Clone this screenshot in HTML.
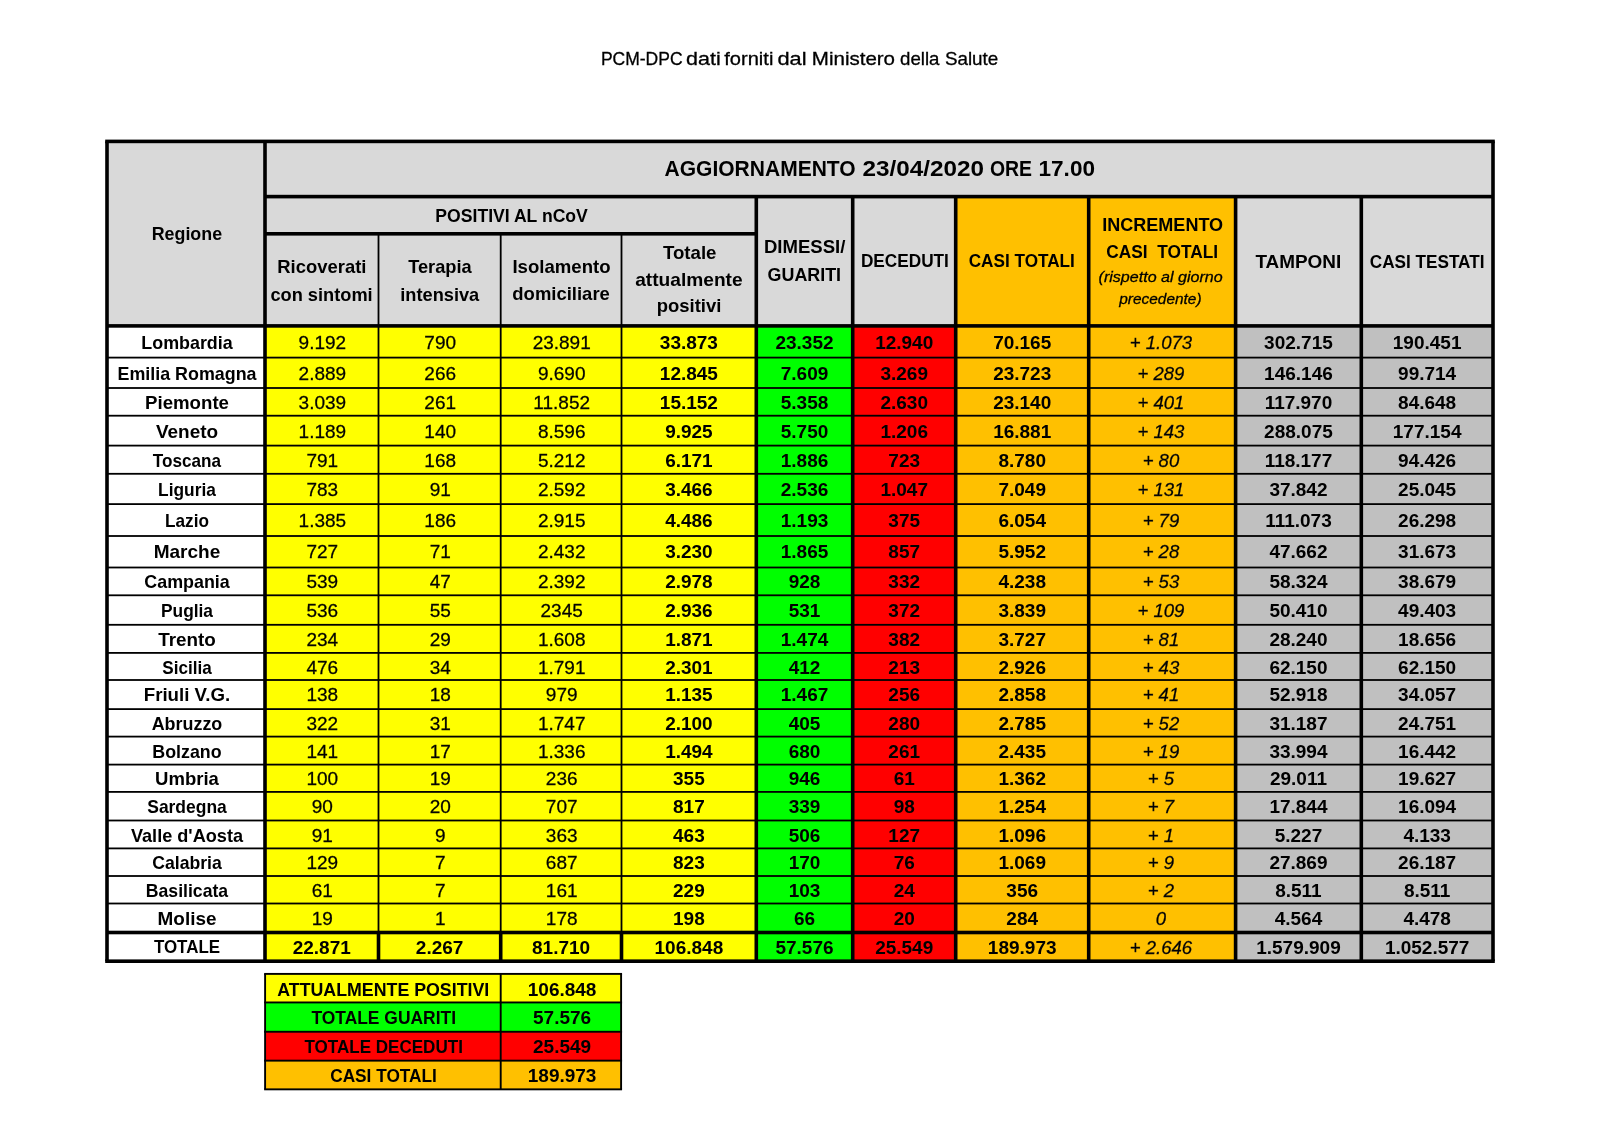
<!DOCTYPE html>
<html><head><meta charset="utf-8"><title>Dati COVID-19</title>
<style>
html,body{margin:0;padding:0;background:#fff;}
svg{display:block;will-change:transform;}
text{font-family:"Liberation Sans", sans-serif;text-anchor:middle;fill:#000;}
</style></head>
<body>
<svg width="1600" height="1131" viewBox="0 0 1600 1131">
<rect x="0" y="0" width="1600" height="1131" fill="#fff"/>
<rect x="107.00" y="141.40" width="1386.00" height="184.50" fill="#d9d9d9"/>
<rect x="955.70" y="196.60" width="279.90" height="129.30" fill="#ffc000"/>
<rect x="107.00" y="325.90" width="158.00" height="31.70" fill="#ffffff"/>
<rect x="265.00" y="325.90" width="491.30" height="31.70" fill="#ffff00"/>
<rect x="756.30" y="325.90" width="96.40" height="31.70" fill="#00ff00"/>
<rect x="852.70" y="325.90" width="103.00" height="31.70" fill="#ff0000"/>
<rect x="955.70" y="325.90" width="279.90" height="31.70" fill="#ffc000"/>
<rect x="1235.60" y="325.90" width="257.40" height="31.70" fill="#c0c0c0"/>
<rect x="107.00" y="357.60" width="158.00" height="30.40" fill="#ffffff"/>
<rect x="265.00" y="357.60" width="491.30" height="30.40" fill="#ffff00"/>
<rect x="756.30" y="357.60" width="96.40" height="30.40" fill="#00ff00"/>
<rect x="852.70" y="357.60" width="103.00" height="30.40" fill="#ff0000"/>
<rect x="955.70" y="357.60" width="279.90" height="30.40" fill="#ffc000"/>
<rect x="1235.60" y="357.60" width="257.40" height="30.40" fill="#c0c0c0"/>
<rect x="107.00" y="388.00" width="158.00" height="27.70" fill="#ffffff"/>
<rect x="265.00" y="388.00" width="491.30" height="27.70" fill="#ffff00"/>
<rect x="756.30" y="388.00" width="96.40" height="27.70" fill="#00ff00"/>
<rect x="852.70" y="388.00" width="103.00" height="27.70" fill="#ff0000"/>
<rect x="955.70" y="388.00" width="279.90" height="27.70" fill="#ffc000"/>
<rect x="1235.60" y="388.00" width="257.40" height="27.70" fill="#c0c0c0"/>
<rect x="107.00" y="415.70" width="158.00" height="29.90" fill="#ffffff"/>
<rect x="265.00" y="415.70" width="491.30" height="29.90" fill="#ffff00"/>
<rect x="756.30" y="415.70" width="96.40" height="29.90" fill="#00ff00"/>
<rect x="852.70" y="415.70" width="103.00" height="29.90" fill="#ff0000"/>
<rect x="955.70" y="415.70" width="279.90" height="29.90" fill="#ffc000"/>
<rect x="1235.60" y="415.70" width="257.40" height="29.90" fill="#c0c0c0"/>
<rect x="107.00" y="445.60" width="158.00" height="28.20" fill="#ffffff"/>
<rect x="265.00" y="445.60" width="491.30" height="28.20" fill="#ffff00"/>
<rect x="756.30" y="445.60" width="96.40" height="28.20" fill="#00ff00"/>
<rect x="852.70" y="445.60" width="103.00" height="28.20" fill="#ff0000"/>
<rect x="955.70" y="445.60" width="279.90" height="28.20" fill="#ffc000"/>
<rect x="1235.60" y="445.60" width="257.40" height="28.20" fill="#c0c0c0"/>
<rect x="107.00" y="473.80" width="158.00" height="30.30" fill="#ffffff"/>
<rect x="265.00" y="473.80" width="491.30" height="30.30" fill="#ffff00"/>
<rect x="756.30" y="473.80" width="96.40" height="30.30" fill="#00ff00"/>
<rect x="852.70" y="473.80" width="103.00" height="30.30" fill="#ff0000"/>
<rect x="955.70" y="473.80" width="279.90" height="30.30" fill="#ffc000"/>
<rect x="1235.60" y="473.80" width="257.40" height="30.30" fill="#c0c0c0"/>
<rect x="107.00" y="504.10" width="158.00" height="31.90" fill="#ffffff"/>
<rect x="265.00" y="504.10" width="491.30" height="31.90" fill="#ffff00"/>
<rect x="756.30" y="504.10" width="96.40" height="31.90" fill="#00ff00"/>
<rect x="852.70" y="504.10" width="103.00" height="31.90" fill="#ff0000"/>
<rect x="955.70" y="504.10" width="279.90" height="31.90" fill="#ffc000"/>
<rect x="1235.60" y="504.10" width="257.40" height="31.90" fill="#c0c0c0"/>
<rect x="107.00" y="536.00" width="158.00" height="31.50" fill="#ffffff"/>
<rect x="265.00" y="536.00" width="491.30" height="31.50" fill="#ffff00"/>
<rect x="756.30" y="536.00" width="96.40" height="31.50" fill="#00ff00"/>
<rect x="852.70" y="536.00" width="103.00" height="31.50" fill="#ff0000"/>
<rect x="955.70" y="536.00" width="279.90" height="31.50" fill="#ffc000"/>
<rect x="1235.60" y="536.00" width="257.40" height="31.50" fill="#c0c0c0"/>
<rect x="107.00" y="567.50" width="158.00" height="27.80" fill="#ffffff"/>
<rect x="265.00" y="567.50" width="491.30" height="27.80" fill="#ffff00"/>
<rect x="756.30" y="567.50" width="96.40" height="27.80" fill="#00ff00"/>
<rect x="852.70" y="567.50" width="103.00" height="27.80" fill="#ff0000"/>
<rect x="955.70" y="567.50" width="279.90" height="27.80" fill="#ffc000"/>
<rect x="1235.60" y="567.50" width="257.40" height="27.80" fill="#c0c0c0"/>
<rect x="107.00" y="595.30" width="158.00" height="29.50" fill="#ffffff"/>
<rect x="265.00" y="595.30" width="491.30" height="29.50" fill="#ffff00"/>
<rect x="756.30" y="595.30" width="96.40" height="29.50" fill="#00ff00"/>
<rect x="852.70" y="595.30" width="103.00" height="29.50" fill="#ff0000"/>
<rect x="955.70" y="595.30" width="279.90" height="29.50" fill="#ffc000"/>
<rect x="1235.60" y="595.30" width="257.40" height="29.50" fill="#c0c0c0"/>
<rect x="107.00" y="624.80" width="158.00" height="28.10" fill="#ffffff"/>
<rect x="265.00" y="624.80" width="491.30" height="28.10" fill="#ffff00"/>
<rect x="756.30" y="624.80" width="96.40" height="28.10" fill="#00ff00"/>
<rect x="852.70" y="624.80" width="103.00" height="28.10" fill="#ff0000"/>
<rect x="955.70" y="624.80" width="279.90" height="28.10" fill="#ffc000"/>
<rect x="1235.60" y="624.80" width="257.40" height="28.10" fill="#c0c0c0"/>
<rect x="107.00" y="652.90" width="158.00" height="27.10" fill="#ffffff"/>
<rect x="265.00" y="652.90" width="491.30" height="27.10" fill="#ffff00"/>
<rect x="756.30" y="652.90" width="96.40" height="27.10" fill="#00ff00"/>
<rect x="852.70" y="652.90" width="103.00" height="27.10" fill="#ff0000"/>
<rect x="955.70" y="652.90" width="279.90" height="27.10" fill="#ffc000"/>
<rect x="1235.60" y="652.90" width="257.40" height="27.10" fill="#c0c0c0"/>
<rect x="107.00" y="680.00" width="158.00" height="29.10" fill="#ffffff"/>
<rect x="265.00" y="680.00" width="491.30" height="29.10" fill="#ffff00"/>
<rect x="756.30" y="680.00" width="96.40" height="29.10" fill="#00ff00"/>
<rect x="852.70" y="680.00" width="103.00" height="29.10" fill="#ff0000"/>
<rect x="955.70" y="680.00" width="279.90" height="29.10" fill="#ffc000"/>
<rect x="1235.60" y="680.00" width="257.40" height="29.10" fill="#c0c0c0"/>
<rect x="107.00" y="709.10" width="158.00" height="27.50" fill="#ffffff"/>
<rect x="265.00" y="709.10" width="491.30" height="27.50" fill="#ffff00"/>
<rect x="756.30" y="709.10" width="96.40" height="27.50" fill="#00ff00"/>
<rect x="852.70" y="709.10" width="103.00" height="27.50" fill="#ff0000"/>
<rect x="955.70" y="709.10" width="279.90" height="27.50" fill="#ffc000"/>
<rect x="1235.60" y="709.10" width="257.40" height="27.50" fill="#c0c0c0"/>
<rect x="107.00" y="736.60" width="158.00" height="28.00" fill="#ffffff"/>
<rect x="265.00" y="736.60" width="491.30" height="28.00" fill="#ffff00"/>
<rect x="756.30" y="736.60" width="96.40" height="28.00" fill="#00ff00"/>
<rect x="852.70" y="736.60" width="103.00" height="28.00" fill="#ff0000"/>
<rect x="955.70" y="736.60" width="279.90" height="28.00" fill="#ffc000"/>
<rect x="1235.60" y="736.60" width="257.40" height="28.00" fill="#c0c0c0"/>
<rect x="107.00" y="764.60" width="158.00" height="27.30" fill="#ffffff"/>
<rect x="265.00" y="764.60" width="491.30" height="27.30" fill="#ffff00"/>
<rect x="756.30" y="764.60" width="96.40" height="27.30" fill="#00ff00"/>
<rect x="852.70" y="764.60" width="103.00" height="27.30" fill="#ff0000"/>
<rect x="955.70" y="764.60" width="279.90" height="27.30" fill="#ffc000"/>
<rect x="1235.60" y="764.60" width="257.40" height="27.30" fill="#c0c0c0"/>
<rect x="107.00" y="791.90" width="158.00" height="28.60" fill="#ffffff"/>
<rect x="265.00" y="791.90" width="491.30" height="28.60" fill="#ffff00"/>
<rect x="756.30" y="791.90" width="96.40" height="28.60" fill="#00ff00"/>
<rect x="852.70" y="791.90" width="103.00" height="28.60" fill="#ff0000"/>
<rect x="955.70" y="791.90" width="279.90" height="28.60" fill="#ffc000"/>
<rect x="1235.60" y="791.90" width="257.40" height="28.60" fill="#c0c0c0"/>
<rect x="107.00" y="820.50" width="158.00" height="27.90" fill="#ffffff"/>
<rect x="265.00" y="820.50" width="491.30" height="27.90" fill="#ffff00"/>
<rect x="756.30" y="820.50" width="96.40" height="27.90" fill="#00ff00"/>
<rect x="852.70" y="820.50" width="103.00" height="27.90" fill="#ff0000"/>
<rect x="955.70" y="820.50" width="279.90" height="27.90" fill="#ffc000"/>
<rect x="1235.60" y="820.50" width="257.40" height="27.90" fill="#c0c0c0"/>
<rect x="107.00" y="848.40" width="158.00" height="27.60" fill="#ffffff"/>
<rect x="265.00" y="848.40" width="491.30" height="27.60" fill="#ffff00"/>
<rect x="756.30" y="848.40" width="96.40" height="27.60" fill="#00ff00"/>
<rect x="852.70" y="848.40" width="103.00" height="27.60" fill="#ff0000"/>
<rect x="955.70" y="848.40" width="279.90" height="27.60" fill="#ffc000"/>
<rect x="1235.60" y="848.40" width="257.40" height="27.60" fill="#c0c0c0"/>
<rect x="107.00" y="876.00" width="158.00" height="27.50" fill="#ffffff"/>
<rect x="265.00" y="876.00" width="491.30" height="27.50" fill="#ffff00"/>
<rect x="756.30" y="876.00" width="96.40" height="27.50" fill="#00ff00"/>
<rect x="852.70" y="876.00" width="103.00" height="27.50" fill="#ff0000"/>
<rect x="955.70" y="876.00" width="279.90" height="27.50" fill="#ffc000"/>
<rect x="1235.60" y="876.00" width="257.40" height="27.50" fill="#c0c0c0"/>
<rect x="107.00" y="903.50" width="158.00" height="29.00" fill="#ffffff"/>
<rect x="265.00" y="903.50" width="491.30" height="29.00" fill="#ffff00"/>
<rect x="756.30" y="903.50" width="96.40" height="29.00" fill="#00ff00"/>
<rect x="852.70" y="903.50" width="103.00" height="29.00" fill="#ff0000"/>
<rect x="955.70" y="903.50" width="279.90" height="29.00" fill="#ffc000"/>
<rect x="1235.60" y="903.50" width="257.40" height="29.00" fill="#c0c0c0"/>
<rect x="107.00" y="932.50" width="158.00" height="28.70" fill="#ffffff"/>
<rect x="265.00" y="932.50" width="491.30" height="28.70" fill="#ffff00"/>
<rect x="756.30" y="932.50" width="96.40" height="28.70" fill="#00ff00"/>
<rect x="852.70" y="932.50" width="103.00" height="28.70" fill="#ff0000"/>
<rect x="955.70" y="932.50" width="279.90" height="28.70" fill="#ffc000"/>
<rect x="1235.60" y="932.50" width="257.40" height="28.70" fill="#c0c0c0"/>
<rect x="105.20" y="139.60" width="1389.60" height="3.60" fill="#000"/>
<rect x="265.00" y="194.80" width="1228.00" height="3.60" fill="#000"/>
<rect x="265.00" y="232.00" width="491.30" height="3.60" fill="#000"/>
<rect x="107.00" y="324.10" width="1386.00" height="3.60" fill="#000"/>
<rect x="105.20" y="141.40" width="3.60" height="819.80" fill="#000"/>
<rect x="1491.20" y="141.40" width="3.60" height="819.80" fill="#000"/>
<rect x="263.20" y="141.40" width="3.60" height="819.80" fill="#000"/>
<rect x="377.60" y="233.80" width="1.80" height="92.10" fill="#000"/>
<rect x="499.80" y="233.80" width="1.80" height="92.10" fill="#000"/>
<rect x="620.60" y="233.80" width="1.80" height="92.10" fill="#000"/>
<rect x="754.50" y="196.60" width="3.60" height="764.60" fill="#000"/>
<rect x="850.90" y="196.60" width="3.60" height="764.60" fill="#000"/>
<rect x="953.90" y="196.60" width="3.60" height="764.60" fill="#000"/>
<rect x="1086.90" y="196.60" width="3.60" height="764.60" fill="#000"/>
<rect x="1233.80" y="196.60" width="3.60" height="764.60" fill="#000"/>
<rect x="1359.50" y="196.60" width="3.60" height="764.60" fill="#000"/>
<rect x="107.00" y="356.70" width="1386.00" height="1.80" fill="#000"/>
<rect x="107.00" y="387.10" width="1386.00" height="1.80" fill="#000"/>
<rect x="107.00" y="414.80" width="1386.00" height="1.80" fill="#000"/>
<rect x="107.00" y="444.70" width="1386.00" height="1.80" fill="#000"/>
<rect x="107.00" y="472.90" width="1386.00" height="1.80" fill="#000"/>
<rect x="107.00" y="503.20" width="1386.00" height="1.80" fill="#000"/>
<rect x="107.00" y="535.10" width="1386.00" height="1.80" fill="#000"/>
<rect x="107.00" y="566.60" width="1386.00" height="1.80" fill="#000"/>
<rect x="107.00" y="594.40" width="1386.00" height="1.80" fill="#000"/>
<rect x="107.00" y="623.90" width="1386.00" height="1.80" fill="#000"/>
<rect x="107.00" y="652.00" width="1386.00" height="1.80" fill="#000"/>
<rect x="107.00" y="679.10" width="1386.00" height="1.80" fill="#000"/>
<rect x="107.00" y="708.20" width="1386.00" height="1.80" fill="#000"/>
<rect x="107.00" y="735.70" width="1386.00" height="1.80" fill="#000"/>
<rect x="107.00" y="763.70" width="1386.00" height="1.80" fill="#000"/>
<rect x="107.00" y="791.00" width="1386.00" height="1.80" fill="#000"/>
<rect x="107.00" y="819.60" width="1386.00" height="1.80" fill="#000"/>
<rect x="107.00" y="847.50" width="1386.00" height="1.80" fill="#000"/>
<rect x="107.00" y="875.10" width="1386.00" height="1.80" fill="#000"/>
<rect x="107.00" y="902.60" width="1386.00" height="1.80" fill="#000"/>
<rect x="107.00" y="930.70" width="1386.00" height="3.60" fill="#000"/>
<rect x="105.20" y="959.40" width="1389.60" height="3.60" fill="#000"/>
<rect x="377.60" y="325.90" width="1.80" height="606.60" fill="#000"/>
<rect x="376.70" y="932.50" width="3.60" height="28.70" fill="#000"/>
<rect x="499.80" y="325.90" width="1.80" height="606.60" fill="#000"/>
<rect x="498.90" y="932.50" width="3.60" height="28.70" fill="#000"/>
<rect x="620.60" y="325.90" width="1.80" height="606.60" fill="#000"/>
<rect x="619.70" y="932.50" width="3.60" height="28.70" fill="#000"/>
<text x="641.75" y="64.75" font-size="18.5" font-weight="normal" textLength="81.7" lengthAdjust="spacingAndGlyphs" stroke-width="0.3" stroke="#000">PCM-DPC</text>
<text x="703.35" y="64.75" font-size="18.5" font-weight="normal" textLength="34.6" lengthAdjust="spacingAndGlyphs" stroke-width="0.3" stroke="#000">dati</text>
<text x="748.80" y="64.75" font-size="18.5" font-weight="normal" textLength="49.1" lengthAdjust="spacingAndGlyphs" stroke-width="0.3" stroke="#000">forniti</text>
<text x="792.00" y="64.75" font-size="18.5" font-weight="normal" textLength="29.1" lengthAdjust="spacingAndGlyphs" stroke-width="0.3" stroke="#000">dal</text>
<text x="853.45" y="64.75" font-size="18.5" font-weight="normal" textLength="83.2" lengthAdjust="spacingAndGlyphs" stroke-width="0.3" stroke="#000">Ministero</text>
<text x="919.75" y="64.75" font-size="18.5" font-weight="normal" textLength="39.4" lengthAdjust="spacingAndGlyphs" stroke-width="0.3" stroke="#000">della</text>
<text x="971.60" y="64.75" font-size="18.5" font-weight="normal" textLength="53.4" lengthAdjust="spacingAndGlyphs" stroke-width="0.3" stroke="#000">Salute</text>
<text x="760.10" y="176.40" font-size="22" font-weight="bold" textLength="191.1" lengthAdjust="spacingAndGlyphs">AGGIORNAMENTO</text>
<text x="923.25" y="176.40" font-size="22" font-weight="bold" textLength="121.5" lengthAdjust="spacingAndGlyphs">23/04/2020</text>
<text x="1011.00" y="176.40" font-size="22" font-weight="bold" textLength="42.1" lengthAdjust="spacingAndGlyphs">ORE</text>
<text x="1066.75" y="176.40" font-size="22" font-weight="bold" textLength="56.5" lengthAdjust="spacingAndGlyphs">17.00</text>
<text x="186.90" y="240.00" font-size="19" font-weight="bold" textLength="70.4" lengthAdjust="spacingAndGlyphs">Regione</text>
<text x="511.60" y="221.60" font-size="19" font-weight="bold" textLength="152.5" lengthAdjust="spacingAndGlyphs">POSITIVI AL nCoV</text>
<text x="321.85" y="272.70" font-size="19" font-weight="bold" textLength="89.1" lengthAdjust="spacingAndGlyphs">Ricoverati</text>
<text x="321.55" y="300.75" font-size="19" font-weight="bold" textLength="102.3" lengthAdjust="spacingAndGlyphs">con sintomi</text>
<text x="439.95" y="272.70" font-size="19" font-weight="bold" textLength="63.6" lengthAdjust="spacingAndGlyphs">Terapia</text>
<text x="439.75" y="300.75" font-size="19" font-weight="bold" textLength="79.0" lengthAdjust="spacingAndGlyphs">intensiva</text>
<text x="561.50" y="272.60" font-size="19" font-weight="bold" textLength="98.2" lengthAdjust="spacingAndGlyphs">Isolamento</text>
<text x="561.10" y="300.20" font-size="19" font-weight="bold" textLength="97.5" lengthAdjust="spacingAndGlyphs">domiciliare</text>
<text x="689.70" y="258.75" font-size="19" font-weight="bold" textLength="53.6" lengthAdjust="spacingAndGlyphs">Totale</text>
<text x="688.90" y="286.40" font-size="19" font-weight="bold" textLength="107.5" lengthAdjust="spacingAndGlyphs">attualmente</text>
<text x="689.10" y="312.40" font-size="19" font-weight="bold" textLength="64.6" lengthAdjust="spacingAndGlyphs">positivi</text>
<text x="804.65" y="253.40" font-size="19" font-weight="bold" textLength="81.4" lengthAdjust="spacingAndGlyphs">DIMESSI/</text>
<text x="804.35" y="281.10" font-size="19" font-weight="bold" textLength="73.5" lengthAdjust="spacingAndGlyphs">GUARITI</text>
<text x="904.90" y="267.30" font-size="19" font-weight="bold" textLength="88.0" lengthAdjust="spacingAndGlyphs">DECEDUTI</text>
<text x="1021.80" y="267.30" font-size="19" font-weight="bold" textLength="106.2" lengthAdjust="spacingAndGlyphs">CASI TOTALI</text>
<text x="1162.70" y="230.80" font-size="19" font-weight="bold" textLength="120.9" lengthAdjust="spacingAndGlyphs">INCREMENTO</text>
<text x="1162.25" y="258.40" font-size="19" font-weight="bold" textLength="111.8" lengthAdjust="spacingAndGlyphs">CASI  TOTALI</text>
<text x="1160.60" y="282.30" font-size="15" font-weight="normal" font-style="italic" textLength="124.0" lengthAdjust="spacingAndGlyphs" stroke-width="0.3" stroke="#000">(rispetto al giorno</text>
<text x="1160.40" y="304.20" font-size="15" font-weight="normal" font-style="italic" textLength="82.3" lengthAdjust="spacingAndGlyphs" stroke-width="0.3" stroke="#000">precedente)</text>
<text x="1298.35" y="267.60" font-size="19" font-weight="bold" textLength="85.9" lengthAdjust="spacingAndGlyphs">TAMPONI</text>
<text x="1427.15" y="267.60" font-size="19" font-weight="bold" textLength="114.7" lengthAdjust="spacingAndGlyphs">CASI TESTATI</text>
<text x="187.00" y="348.70" font-size="19" font-weight="bold" textLength="91.4" lengthAdjust="spacingAndGlyphs">Lombardia</text>
<text x="322.35" y="348.70" font-size="19" font-weight="normal" fill="#141400" stroke-width="0.3" stroke="#141400">9.192</text>
<text x="440.20" y="348.70" font-size="19" font-weight="normal" fill="#141400" stroke-width="0.3" stroke="#141400">790</text>
<text x="561.70" y="348.70" font-size="19" font-weight="normal" fill="#141400" stroke-width="0.3" stroke="#141400">23.891</text>
<text x="688.90" y="348.70" font-size="19" font-weight="bold">33.873</text>
<text x="804.50" y="348.70" font-size="19" font-weight="bold" fill="#062000">23.352</text>
<text x="904.20" y="348.70" font-size="19" font-weight="bold" fill="#380000">12.940</text>
<text x="1022.20" y="348.70" font-size="19" font-weight="bold">70.165</text>
<text x="1160.95" y="348.70" font-size="19" font-weight="normal" font-style="italic" fill="#1a1a1a" textLength="62.3" lengthAdjust="spacingAndGlyphs" stroke-width="0.3" stroke="#1a1a1a">+ 1.073</text>
<text x="1298.45" y="348.70" font-size="19" font-weight="bold">302.715</text>
<text x="1427.15" y="348.70" font-size="19" font-weight="bold">190.451</text>
<text x="187.00" y="379.70" font-size="19" font-weight="bold" textLength="139.0" lengthAdjust="spacingAndGlyphs">Emilia Romagna</text>
<text x="322.35" y="379.70" font-size="19" font-weight="normal" fill="#141400" stroke-width="0.3" stroke="#141400">2.889</text>
<text x="440.20" y="379.70" font-size="19" font-weight="normal" fill="#141400" stroke-width="0.3" stroke="#141400">266</text>
<text x="561.70" y="379.70" font-size="19" font-weight="normal" fill="#141400" stroke-width="0.3" stroke="#141400">9.690</text>
<text x="688.90" y="379.70" font-size="19" font-weight="bold">12.845</text>
<text x="804.50" y="379.70" font-size="19" font-weight="bold" fill="#062000">7.609</text>
<text x="904.20" y="379.70" font-size="19" font-weight="bold" fill="#380000">3.269</text>
<text x="1022.20" y="379.70" font-size="19" font-weight="bold">23.723</text>
<text x="1160.95" y="379.70" font-size="19" font-weight="normal" font-style="italic" fill="#1a1a1a" textLength="46.9" lengthAdjust="spacingAndGlyphs" stroke-width="0.3" stroke="#1a1a1a">+ 289</text>
<text x="1298.45" y="379.70" font-size="19" font-weight="bold">146.146</text>
<text x="1427.15" y="379.70" font-size="19" font-weight="bold">99.714</text>
<text x="187.00" y="409.00" font-size="19" font-weight="bold" textLength="84.0" lengthAdjust="spacingAndGlyphs">Piemonte</text>
<text x="322.35" y="409.00" font-size="19" font-weight="normal" fill="#141400" stroke-width="0.3" stroke="#141400">3.039</text>
<text x="440.20" y="409.00" font-size="19" font-weight="normal" fill="#141400" stroke-width="0.3" stroke="#141400">261</text>
<text x="561.70" y="409.00" font-size="19" font-weight="normal" fill="#141400" stroke-width="0.3" stroke="#141400">11.852</text>
<text x="688.90" y="409.00" font-size="19" font-weight="bold">15.152</text>
<text x="804.50" y="409.00" font-size="19" font-weight="bold" fill="#062000">5.358</text>
<text x="904.20" y="409.00" font-size="19" font-weight="bold" fill="#380000">2.630</text>
<text x="1022.20" y="409.00" font-size="19" font-weight="bold">23.140</text>
<text x="1160.95" y="409.00" font-size="19" font-weight="normal" font-style="italic" fill="#1a1a1a" textLength="46.9" lengthAdjust="spacingAndGlyphs" stroke-width="0.3" stroke="#1a1a1a">+ 401</text>
<text x="1298.45" y="409.00" font-size="19" font-weight="bold">117.970</text>
<text x="1427.15" y="409.00" font-size="19" font-weight="bold">84.648</text>
<text x="187.00" y="437.60" font-size="19" font-weight="bold" textLength="62.2" lengthAdjust="spacingAndGlyphs">Veneto</text>
<text x="322.35" y="437.60" font-size="19" font-weight="normal" fill="#141400" stroke-width="0.3" stroke="#141400">1.189</text>
<text x="440.20" y="437.60" font-size="19" font-weight="normal" fill="#141400" stroke-width="0.3" stroke="#141400">140</text>
<text x="561.70" y="437.60" font-size="19" font-weight="normal" fill="#141400" stroke-width="0.3" stroke="#141400">8.596</text>
<text x="688.90" y="437.60" font-size="19" font-weight="bold">9.925</text>
<text x="804.50" y="437.60" font-size="19" font-weight="bold" fill="#062000">5.750</text>
<text x="904.20" y="437.60" font-size="19" font-weight="bold" fill="#380000">1.206</text>
<text x="1022.20" y="437.60" font-size="19" font-weight="bold">16.881</text>
<text x="1160.95" y="437.60" font-size="19" font-weight="normal" font-style="italic" fill="#1a1a1a" textLength="46.9" lengthAdjust="spacingAndGlyphs" stroke-width="0.3" stroke="#1a1a1a">+ 143</text>
<text x="1298.45" y="437.60" font-size="19" font-weight="bold">288.075</text>
<text x="1427.15" y="437.60" font-size="19" font-weight="bold">177.154</text>
<text x="187.00" y="466.60" font-size="19" font-weight="bold" textLength="68.3" lengthAdjust="spacingAndGlyphs">Toscana</text>
<text x="322.35" y="466.60" font-size="19" font-weight="normal" fill="#141400" stroke-width="0.3" stroke="#141400">791</text>
<text x="440.20" y="466.60" font-size="19" font-weight="normal" fill="#141400" stroke-width="0.3" stroke="#141400">168</text>
<text x="561.70" y="466.60" font-size="19" font-weight="normal" fill="#141400" stroke-width="0.3" stroke="#141400">5.212</text>
<text x="688.90" y="466.60" font-size="19" font-weight="bold">6.171</text>
<text x="804.50" y="466.60" font-size="19" font-weight="bold" fill="#062000">1.886</text>
<text x="904.20" y="466.60" font-size="19" font-weight="bold" fill="#380000">723</text>
<text x="1022.20" y="466.60" font-size="19" font-weight="bold">8.780</text>
<text x="1160.95" y="466.60" font-size="19" font-weight="normal" font-style="italic" fill="#1a1a1a" textLength="36.6" lengthAdjust="spacingAndGlyphs" stroke-width="0.3" stroke="#1a1a1a">+ 80</text>
<text x="1298.45" y="466.60" font-size="19" font-weight="bold">118.177</text>
<text x="1427.15" y="466.60" font-size="19" font-weight="bold">94.426</text>
<text x="187.00" y="495.60" font-size="19" font-weight="bold" textLength="57.8" lengthAdjust="spacingAndGlyphs">Liguria</text>
<text x="322.35" y="495.60" font-size="19" font-weight="normal" fill="#141400" stroke-width="0.3" stroke="#141400">783</text>
<text x="440.20" y="495.60" font-size="19" font-weight="normal" fill="#141400" stroke-width="0.3" stroke="#141400">91</text>
<text x="561.70" y="495.60" font-size="19" font-weight="normal" fill="#141400" stroke-width="0.3" stroke="#141400">2.592</text>
<text x="688.90" y="495.60" font-size="19" font-weight="bold">3.466</text>
<text x="804.50" y="495.60" font-size="19" font-weight="bold" fill="#062000">2.536</text>
<text x="904.20" y="495.60" font-size="19" font-weight="bold" fill="#380000">1.047</text>
<text x="1022.20" y="495.60" font-size="19" font-weight="bold">7.049</text>
<text x="1160.95" y="495.60" font-size="19" font-weight="normal" font-style="italic" fill="#1a1a1a" textLength="46.9" lengthAdjust="spacingAndGlyphs" stroke-width="0.3" stroke="#1a1a1a">+ 131</text>
<text x="1298.45" y="495.60" font-size="19" font-weight="bold">37.842</text>
<text x="1427.15" y="495.60" font-size="19" font-weight="bold">25.045</text>
<text x="187.00" y="526.60" font-size="19" font-weight="bold" textLength="43.9" lengthAdjust="spacingAndGlyphs">Lazio</text>
<text x="322.35" y="526.60" font-size="19" font-weight="normal" fill="#141400" stroke-width="0.3" stroke="#141400">1.385</text>
<text x="440.20" y="526.60" font-size="19" font-weight="normal" fill="#141400" stroke-width="0.3" stroke="#141400">186</text>
<text x="561.70" y="526.60" font-size="19" font-weight="normal" fill="#141400" stroke-width="0.3" stroke="#141400">2.915</text>
<text x="688.90" y="526.60" font-size="19" font-weight="bold">4.486</text>
<text x="804.50" y="526.60" font-size="19" font-weight="bold" fill="#062000">1.193</text>
<text x="904.20" y="526.60" font-size="19" font-weight="bold" fill="#380000">375</text>
<text x="1022.20" y="526.60" font-size="19" font-weight="bold">6.054</text>
<text x="1160.95" y="526.60" font-size="19" font-weight="normal" font-style="italic" fill="#1a1a1a" textLength="36.6" lengthAdjust="spacingAndGlyphs" stroke-width="0.3" stroke="#1a1a1a">+ 79</text>
<text x="1298.45" y="526.60" font-size="19" font-weight="bold">111.073</text>
<text x="1427.15" y="526.60" font-size="19" font-weight="bold">26.298</text>
<text x="187.00" y="558.30" font-size="19" font-weight="bold" textLength="66.6" lengthAdjust="spacingAndGlyphs">Marche</text>
<text x="322.35" y="558.30" font-size="19" font-weight="normal" fill="#141400" stroke-width="0.3" stroke="#141400">727</text>
<text x="440.20" y="558.30" font-size="19" font-weight="normal" fill="#141400" stroke-width="0.3" stroke="#141400">71</text>
<text x="561.70" y="558.30" font-size="19" font-weight="normal" fill="#141400" stroke-width="0.3" stroke="#141400">2.432</text>
<text x="688.90" y="558.30" font-size="19" font-weight="bold">3.230</text>
<text x="804.50" y="558.30" font-size="19" font-weight="bold" fill="#062000">1.865</text>
<text x="904.20" y="558.30" font-size="19" font-weight="bold" fill="#380000">857</text>
<text x="1022.20" y="558.30" font-size="19" font-weight="bold">5.952</text>
<text x="1160.95" y="558.30" font-size="19" font-weight="normal" font-style="italic" fill="#1a1a1a" textLength="36.6" lengthAdjust="spacingAndGlyphs" stroke-width="0.3" stroke="#1a1a1a">+ 28</text>
<text x="1298.45" y="558.30" font-size="19" font-weight="bold">47.662</text>
<text x="1427.15" y="558.30" font-size="19" font-weight="bold">31.673</text>
<text x="187.00" y="587.60" font-size="19" font-weight="bold" textLength="85.4" lengthAdjust="spacingAndGlyphs">Campania</text>
<text x="322.35" y="587.60" font-size="19" font-weight="normal" fill="#141400" stroke-width="0.3" stroke="#141400">539</text>
<text x="440.20" y="587.60" font-size="19" font-weight="normal" fill="#141400" stroke-width="0.3" stroke="#141400">47</text>
<text x="561.70" y="587.60" font-size="19" font-weight="normal" fill="#141400" stroke-width="0.3" stroke="#141400">2.392</text>
<text x="688.90" y="587.60" font-size="19" font-weight="bold">2.978</text>
<text x="804.50" y="587.60" font-size="19" font-weight="bold" fill="#062000">928</text>
<text x="904.20" y="587.60" font-size="19" font-weight="bold" fill="#380000">332</text>
<text x="1022.20" y="587.60" font-size="19" font-weight="bold">4.238</text>
<text x="1160.95" y="587.60" font-size="19" font-weight="normal" font-style="italic" fill="#1a1a1a" textLength="36.6" lengthAdjust="spacingAndGlyphs" stroke-width="0.3" stroke="#1a1a1a">+ 53</text>
<text x="1298.45" y="587.60" font-size="19" font-weight="bold">58.324</text>
<text x="1427.15" y="587.60" font-size="19" font-weight="bold">38.679</text>
<text x="187.00" y="616.80" font-size="19" font-weight="bold" textLength="52.0" lengthAdjust="spacingAndGlyphs">Puglia</text>
<text x="322.35" y="616.80" font-size="19" font-weight="normal" fill="#141400" stroke-width="0.3" stroke="#141400">536</text>
<text x="440.20" y="616.80" font-size="19" font-weight="normal" fill="#141400" stroke-width="0.3" stroke="#141400">55</text>
<text x="561.70" y="616.80" font-size="19" font-weight="normal" fill="#141400" stroke-width="0.3" stroke="#141400">2345</text>
<text x="688.90" y="616.80" font-size="19" font-weight="bold">2.936</text>
<text x="804.50" y="616.80" font-size="19" font-weight="bold" fill="#062000">531</text>
<text x="904.20" y="616.80" font-size="19" font-weight="bold" fill="#380000">372</text>
<text x="1022.20" y="616.80" font-size="19" font-weight="bold">3.839</text>
<text x="1160.95" y="616.80" font-size="19" font-weight="normal" font-style="italic" fill="#1a1a1a" textLength="46.9" lengthAdjust="spacingAndGlyphs" stroke-width="0.3" stroke="#1a1a1a">+ 109</text>
<text x="1298.45" y="616.80" font-size="19" font-weight="bold">50.410</text>
<text x="1427.15" y="616.80" font-size="19" font-weight="bold">49.403</text>
<text x="187.00" y="646.00" font-size="19" font-weight="bold" textLength="57.6" lengthAdjust="spacingAndGlyphs">Trento</text>
<text x="322.35" y="646.00" font-size="19" font-weight="normal" fill="#141400" stroke-width="0.3" stroke="#141400">234</text>
<text x="440.20" y="646.00" font-size="19" font-weight="normal" fill="#141400" stroke-width="0.3" stroke="#141400">29</text>
<text x="561.70" y="646.00" font-size="19" font-weight="normal" fill="#141400" stroke-width="0.3" stroke="#141400">1.608</text>
<text x="688.90" y="646.00" font-size="19" font-weight="bold">1.871</text>
<text x="804.50" y="646.00" font-size="19" font-weight="bold" fill="#062000">1.474</text>
<text x="904.20" y="646.00" font-size="19" font-weight="bold" fill="#380000">382</text>
<text x="1022.20" y="646.00" font-size="19" font-weight="bold">3.727</text>
<text x="1160.95" y="646.00" font-size="19" font-weight="normal" font-style="italic" fill="#1a1a1a" textLength="36.6" lengthAdjust="spacingAndGlyphs" stroke-width="0.3" stroke="#1a1a1a">+ 81</text>
<text x="1298.45" y="646.00" font-size="19" font-weight="bold">28.240</text>
<text x="1427.15" y="646.00" font-size="19" font-weight="bold">18.656</text>
<text x="187.00" y="673.50" font-size="19" font-weight="bold" textLength="49.4" lengthAdjust="spacingAndGlyphs">Sicilia</text>
<text x="322.35" y="673.50" font-size="19" font-weight="normal" fill="#141400" stroke-width="0.3" stroke="#141400">476</text>
<text x="440.20" y="673.50" font-size="19" font-weight="normal" fill="#141400" stroke-width="0.3" stroke="#141400">34</text>
<text x="561.70" y="673.50" font-size="19" font-weight="normal" fill="#141400" stroke-width="0.3" stroke="#141400">1.791</text>
<text x="688.90" y="673.50" font-size="19" font-weight="bold">2.301</text>
<text x="804.50" y="673.50" font-size="19" font-weight="bold" fill="#062000">412</text>
<text x="904.20" y="673.50" font-size="19" font-weight="bold" fill="#380000">213</text>
<text x="1022.20" y="673.50" font-size="19" font-weight="bold">2.926</text>
<text x="1160.95" y="673.50" font-size="19" font-weight="normal" font-style="italic" fill="#1a1a1a" textLength="36.6" lengthAdjust="spacingAndGlyphs" stroke-width="0.3" stroke="#1a1a1a">+ 43</text>
<text x="1298.45" y="673.50" font-size="19" font-weight="bold">62.150</text>
<text x="1427.15" y="673.50" font-size="19" font-weight="bold">62.150</text>
<text x="187.00" y="701.40" font-size="19" font-weight="bold" textLength="86.5" lengthAdjust="spacingAndGlyphs">Friuli V.G.</text>
<text x="322.35" y="701.40" font-size="19" font-weight="normal" fill="#141400" stroke-width="0.3" stroke="#141400">138</text>
<text x="440.20" y="701.40" font-size="19" font-weight="normal" fill="#141400" stroke-width="0.3" stroke="#141400">18</text>
<text x="561.70" y="701.40" font-size="19" font-weight="normal" fill="#141400" stroke-width="0.3" stroke="#141400">979</text>
<text x="688.90" y="701.40" font-size="19" font-weight="bold">1.135</text>
<text x="804.50" y="701.40" font-size="19" font-weight="bold" fill="#062000">1.467</text>
<text x="904.20" y="701.40" font-size="19" font-weight="bold" fill="#380000">256</text>
<text x="1022.20" y="701.40" font-size="19" font-weight="bold">2.858</text>
<text x="1160.95" y="701.40" font-size="19" font-weight="normal" font-style="italic" fill="#1a1a1a" textLength="36.6" lengthAdjust="spacingAndGlyphs" stroke-width="0.3" stroke="#1a1a1a">+ 41</text>
<text x="1298.45" y="701.40" font-size="19" font-weight="bold">52.918</text>
<text x="1427.15" y="701.40" font-size="19" font-weight="bold">34.057</text>
<text x="187.00" y="729.60" font-size="19" font-weight="bold" textLength="70.6" lengthAdjust="spacingAndGlyphs">Abruzzo</text>
<text x="322.35" y="729.60" font-size="19" font-weight="normal" fill="#141400" stroke-width="0.3" stroke="#141400">322</text>
<text x="440.20" y="729.60" font-size="19" font-weight="normal" fill="#141400" stroke-width="0.3" stroke="#141400">31</text>
<text x="561.70" y="729.60" font-size="19" font-weight="normal" fill="#141400" stroke-width="0.3" stroke="#141400">1.747</text>
<text x="688.90" y="729.60" font-size="19" font-weight="bold">2.100</text>
<text x="804.50" y="729.60" font-size="19" font-weight="bold" fill="#062000">405</text>
<text x="904.20" y="729.60" font-size="19" font-weight="bold" fill="#380000">280</text>
<text x="1022.20" y="729.60" font-size="19" font-weight="bold">2.785</text>
<text x="1160.95" y="729.60" font-size="19" font-weight="normal" font-style="italic" fill="#1a1a1a" textLength="36.6" lengthAdjust="spacingAndGlyphs" stroke-width="0.3" stroke="#1a1a1a">+ 52</text>
<text x="1298.45" y="729.60" font-size="19" font-weight="bold">31.187</text>
<text x="1427.15" y="729.60" font-size="19" font-weight="bold">24.751</text>
<text x="187.00" y="758.00" font-size="19" font-weight="bold" textLength="69.3" lengthAdjust="spacingAndGlyphs">Bolzano</text>
<text x="322.35" y="758.00" font-size="19" font-weight="normal" fill="#141400" stroke-width="0.3" stroke="#141400">141</text>
<text x="440.20" y="758.00" font-size="19" font-weight="normal" fill="#141400" stroke-width="0.3" stroke="#141400">17</text>
<text x="561.70" y="758.00" font-size="19" font-weight="normal" fill="#141400" stroke-width="0.3" stroke="#141400">1.336</text>
<text x="688.90" y="758.00" font-size="19" font-weight="bold">1.494</text>
<text x="804.50" y="758.00" font-size="19" font-weight="bold" fill="#062000">680</text>
<text x="904.20" y="758.00" font-size="19" font-weight="bold" fill="#380000">261</text>
<text x="1022.20" y="758.00" font-size="19" font-weight="bold">2.435</text>
<text x="1160.95" y="758.00" font-size="19" font-weight="normal" font-style="italic" fill="#1a1a1a" textLength="36.6" lengthAdjust="spacingAndGlyphs" stroke-width="0.3" stroke="#1a1a1a">+ 19</text>
<text x="1298.45" y="758.00" font-size="19" font-weight="bold">33.994</text>
<text x="1427.15" y="758.00" font-size="19" font-weight="bold">16.442</text>
<text x="187.00" y="785.00" font-size="19" font-weight="bold" textLength="63.8" lengthAdjust="spacingAndGlyphs">Umbria</text>
<text x="322.35" y="785.00" font-size="19" font-weight="normal" fill="#141400" stroke-width="0.3" stroke="#141400">100</text>
<text x="440.20" y="785.00" font-size="19" font-weight="normal" fill="#141400" stroke-width="0.3" stroke="#141400">19</text>
<text x="561.70" y="785.00" font-size="19" font-weight="normal" fill="#141400" stroke-width="0.3" stroke="#141400">236</text>
<text x="688.90" y="785.00" font-size="19" font-weight="bold">355</text>
<text x="804.50" y="785.00" font-size="19" font-weight="bold" fill="#062000">946</text>
<text x="904.20" y="785.00" font-size="19" font-weight="bold" fill="#380000">61</text>
<text x="1022.20" y="785.00" font-size="19" font-weight="bold">1.362</text>
<text x="1160.95" y="785.00" font-size="19" font-weight="normal" font-style="italic" fill="#1a1a1a" textLength="26.3" lengthAdjust="spacingAndGlyphs" stroke-width="0.3" stroke="#1a1a1a">+ 5</text>
<text x="1298.45" y="785.00" font-size="19" font-weight="bold">29.011</text>
<text x="1427.15" y="785.00" font-size="19" font-weight="bold">19.627</text>
<text x="187.00" y="813.20" font-size="19" font-weight="bold" textLength="79.5" lengthAdjust="spacingAndGlyphs">Sardegna</text>
<text x="322.35" y="813.20" font-size="19" font-weight="normal" fill="#141400" stroke-width="0.3" stroke="#141400">90</text>
<text x="440.20" y="813.20" font-size="19" font-weight="normal" fill="#141400" stroke-width="0.3" stroke="#141400">20</text>
<text x="561.70" y="813.20" font-size="19" font-weight="normal" fill="#141400" stroke-width="0.3" stroke="#141400">707</text>
<text x="688.90" y="813.20" font-size="19" font-weight="bold">817</text>
<text x="804.50" y="813.20" font-size="19" font-weight="bold" fill="#062000">339</text>
<text x="904.20" y="813.20" font-size="19" font-weight="bold" fill="#380000">98</text>
<text x="1022.20" y="813.20" font-size="19" font-weight="bold">1.254</text>
<text x="1160.95" y="813.20" font-size="19" font-weight="normal" font-style="italic" fill="#1a1a1a" textLength="26.3" lengthAdjust="spacingAndGlyphs" stroke-width="0.3" stroke="#1a1a1a">+ 7</text>
<text x="1298.45" y="813.20" font-size="19" font-weight="bold">17.844</text>
<text x="1427.15" y="813.20" font-size="19" font-weight="bold">16.094</text>
<text x="187.00" y="842.00" font-size="19" font-weight="bold" textLength="112.1" lengthAdjust="spacingAndGlyphs">Valle d&#x27;Aosta</text>
<text x="322.35" y="842.00" font-size="19" font-weight="normal" fill="#141400" stroke-width="0.3" stroke="#141400">91</text>
<text x="440.20" y="842.00" font-size="19" font-weight="normal" fill="#141400" stroke-width="0.3" stroke="#141400">9</text>
<text x="561.70" y="842.00" font-size="19" font-weight="normal" fill="#141400" stroke-width="0.3" stroke="#141400">363</text>
<text x="688.90" y="842.00" font-size="19" font-weight="bold">463</text>
<text x="804.50" y="842.00" font-size="19" font-weight="bold" fill="#062000">506</text>
<text x="904.20" y="842.00" font-size="19" font-weight="bold" fill="#380000">127</text>
<text x="1022.20" y="842.00" font-size="19" font-weight="bold">1.096</text>
<text x="1160.95" y="842.00" font-size="19" font-weight="normal" font-style="italic" fill="#1a1a1a" textLength="26.3" lengthAdjust="spacingAndGlyphs" stroke-width="0.3" stroke="#1a1a1a">+ 1</text>
<text x="1298.45" y="842.00" font-size="19" font-weight="bold">5.227</text>
<text x="1427.15" y="842.00" font-size="19" font-weight="bold">4.133</text>
<text x="187.00" y="868.60" font-size="19" font-weight="bold" textLength="69.6" lengthAdjust="spacingAndGlyphs">Calabria</text>
<text x="322.35" y="868.60" font-size="19" font-weight="normal" fill="#141400" stroke-width="0.3" stroke="#141400">129</text>
<text x="440.20" y="868.60" font-size="19" font-weight="normal" fill="#141400" stroke-width="0.3" stroke="#141400">7</text>
<text x="561.70" y="868.60" font-size="19" font-weight="normal" fill="#141400" stroke-width="0.3" stroke="#141400">687</text>
<text x="688.90" y="868.60" font-size="19" font-weight="bold">823</text>
<text x="804.50" y="868.60" font-size="19" font-weight="bold" fill="#062000">170</text>
<text x="904.20" y="868.60" font-size="19" font-weight="bold" fill="#380000">76</text>
<text x="1022.20" y="868.60" font-size="19" font-weight="bold">1.069</text>
<text x="1160.95" y="868.60" font-size="19" font-weight="normal" font-style="italic" fill="#1a1a1a" textLength="26.3" lengthAdjust="spacingAndGlyphs" stroke-width="0.3" stroke="#1a1a1a">+ 9</text>
<text x="1298.45" y="868.60" font-size="19" font-weight="bold">27.869</text>
<text x="1427.15" y="868.60" font-size="19" font-weight="bold">26.187</text>
<text x="187.00" y="896.80" font-size="19" font-weight="bold" textLength="82.3" lengthAdjust="spacingAndGlyphs">Basilicata</text>
<text x="322.35" y="896.80" font-size="19" font-weight="normal" fill="#141400" stroke-width="0.3" stroke="#141400">61</text>
<text x="440.20" y="896.80" font-size="19" font-weight="normal" fill="#141400" stroke-width="0.3" stroke="#141400">7</text>
<text x="561.70" y="896.80" font-size="19" font-weight="normal" fill="#141400" stroke-width="0.3" stroke="#141400">161</text>
<text x="688.90" y="896.80" font-size="19" font-weight="bold">229</text>
<text x="804.50" y="896.80" font-size="19" font-weight="bold" fill="#062000">103</text>
<text x="904.20" y="896.80" font-size="19" font-weight="bold" fill="#380000">24</text>
<text x="1022.20" y="896.80" font-size="19" font-weight="bold">356</text>
<text x="1160.95" y="896.80" font-size="19" font-weight="normal" font-style="italic" fill="#1a1a1a" textLength="26.3" lengthAdjust="spacingAndGlyphs" stroke-width="0.3" stroke="#1a1a1a">+ 2</text>
<text x="1298.45" y="896.80" font-size="19" font-weight="bold">8.511</text>
<text x="1427.15" y="896.80" font-size="19" font-weight="bold">8.511</text>
<text x="187.00" y="925.20" font-size="19" font-weight="bold" textLength="58.8" lengthAdjust="spacingAndGlyphs">Molise</text>
<text x="322.35" y="925.20" font-size="19" font-weight="normal" fill="#141400" stroke-width="0.3" stroke="#141400">19</text>
<text x="440.20" y="925.20" font-size="19" font-weight="normal" fill="#141400" stroke-width="0.3" stroke="#141400">1</text>
<text x="561.70" y="925.20" font-size="19" font-weight="normal" fill="#141400" stroke-width="0.3" stroke="#141400">178</text>
<text x="688.90" y="925.20" font-size="19" font-weight="bold">198</text>
<text x="804.50" y="925.20" font-size="19" font-weight="bold" fill="#062000">66</text>
<text x="904.20" y="925.20" font-size="19" font-weight="bold" fill="#380000">20</text>
<text x="1022.20" y="925.20" font-size="19" font-weight="bold">284</text>
<text x="1160.95" y="925.20" font-size="19" font-weight="normal" font-style="italic" fill="#1a1a1a" textLength="10.3" lengthAdjust="spacingAndGlyphs" stroke-width="0.3" stroke="#1a1a1a">0</text>
<text x="1298.45" y="925.20" font-size="19" font-weight="bold">4.564</text>
<text x="1427.15" y="925.20" font-size="19" font-weight="bold">4.478</text>
<text x="187.00" y="952.80" font-size="19" font-weight="bold" textLength="66.2" lengthAdjust="spacingAndGlyphs">TOTALE</text>
<text x="321.75" y="953.80" font-size="19" font-weight="bold">22.871</text>
<text x="439.60" y="953.80" font-size="19" font-weight="bold">2.267</text>
<text x="561.10" y="953.80" font-size="19" font-weight="bold">81.710</text>
<text x="688.90" y="953.80" font-size="19" font-weight="bold">106.848</text>
<text x="804.50" y="953.80" font-size="19" font-weight="bold" fill="#062000">57.576</text>
<text x="904.20" y="953.80" font-size="19" font-weight="bold" fill="#380000">25.549</text>
<text x="1022.20" y="953.80" font-size="19" font-weight="bold">189.973</text>
<text x="1160.95" y="953.80" font-size="19" font-weight="normal" font-style="italic" fill="#1a1a1a" textLength="62.3" lengthAdjust="spacingAndGlyphs" stroke-width="0.3" stroke="#1a1a1a">+ 2.646</text>
<text x="1298.45" y="953.80" font-size="19" font-weight="bold">1.579.909</text>
<text x="1427.15" y="953.80" font-size="19" font-weight="bold">1.052.577</text>
<rect x="265.10" y="973.90" width="356.00" height="28.55" fill="#ffff00"/>
<rect x="265.10" y="1002.45" width="356.00" height="29.30" fill="#00ff00"/>
<rect x="265.10" y="1031.75" width="356.00" height="28.90" fill="#ff0000"/>
<rect x="265.10" y="1060.65" width="356.00" height="28.70" fill="#ffc000"/>
<rect x="264.15" y="972.95" width="357.90" height="1.90" fill="#000"/>
<rect x="264.15" y="1001.50" width="357.90" height="1.90" fill="#000"/>
<rect x="264.15" y="1030.80" width="357.90" height="1.90" fill="#000"/>
<rect x="264.15" y="1059.70" width="357.90" height="1.90" fill="#000"/>
<rect x="264.15" y="1088.40" width="357.90" height="1.90" fill="#000"/>
<rect x="264.15" y="973.90" width="1.90" height="115.45" fill="#000"/>
<rect x="620.15" y="973.90" width="1.90" height="115.45" fill="#000"/>
<rect x="499.75" y="973.90" width="1.90" height="115.45" fill="#000"/>
<text x="383.25" y="995.60" font-size="19" font-weight="bold" textLength="212.0" lengthAdjust="spacingAndGlyphs">ATTUALMENTE POSITIVI</text>
<text x="562.10" y="995.60" font-size="19" font-weight="bold">106.848</text>
<text x="383.70" y="1024.30" font-size="19" font-weight="bold" fill="#062000" textLength="144.6" lengthAdjust="spacingAndGlyphs">TOTALE GUARITI</text>
<text x="562.10" y="1024.30" font-size="19" font-weight="bold" fill="#062000">57.576</text>
<text x="383.65" y="1053.40" font-size="19" font-weight="bold" fill="#380000" textLength="158.5" lengthAdjust="spacingAndGlyphs">TOTALE DECEDUTI</text>
<text x="562.10" y="1053.40" font-size="19" font-weight="bold" fill="#380000">25.549</text>
<text x="383.55" y="1082.20" font-size="19" font-weight="bold" textLength="106.7" lengthAdjust="spacingAndGlyphs">CASI TOTALI</text>
<text x="562.10" y="1082.20" font-size="19" font-weight="bold">189.973</text>
</svg>
</body></html>
